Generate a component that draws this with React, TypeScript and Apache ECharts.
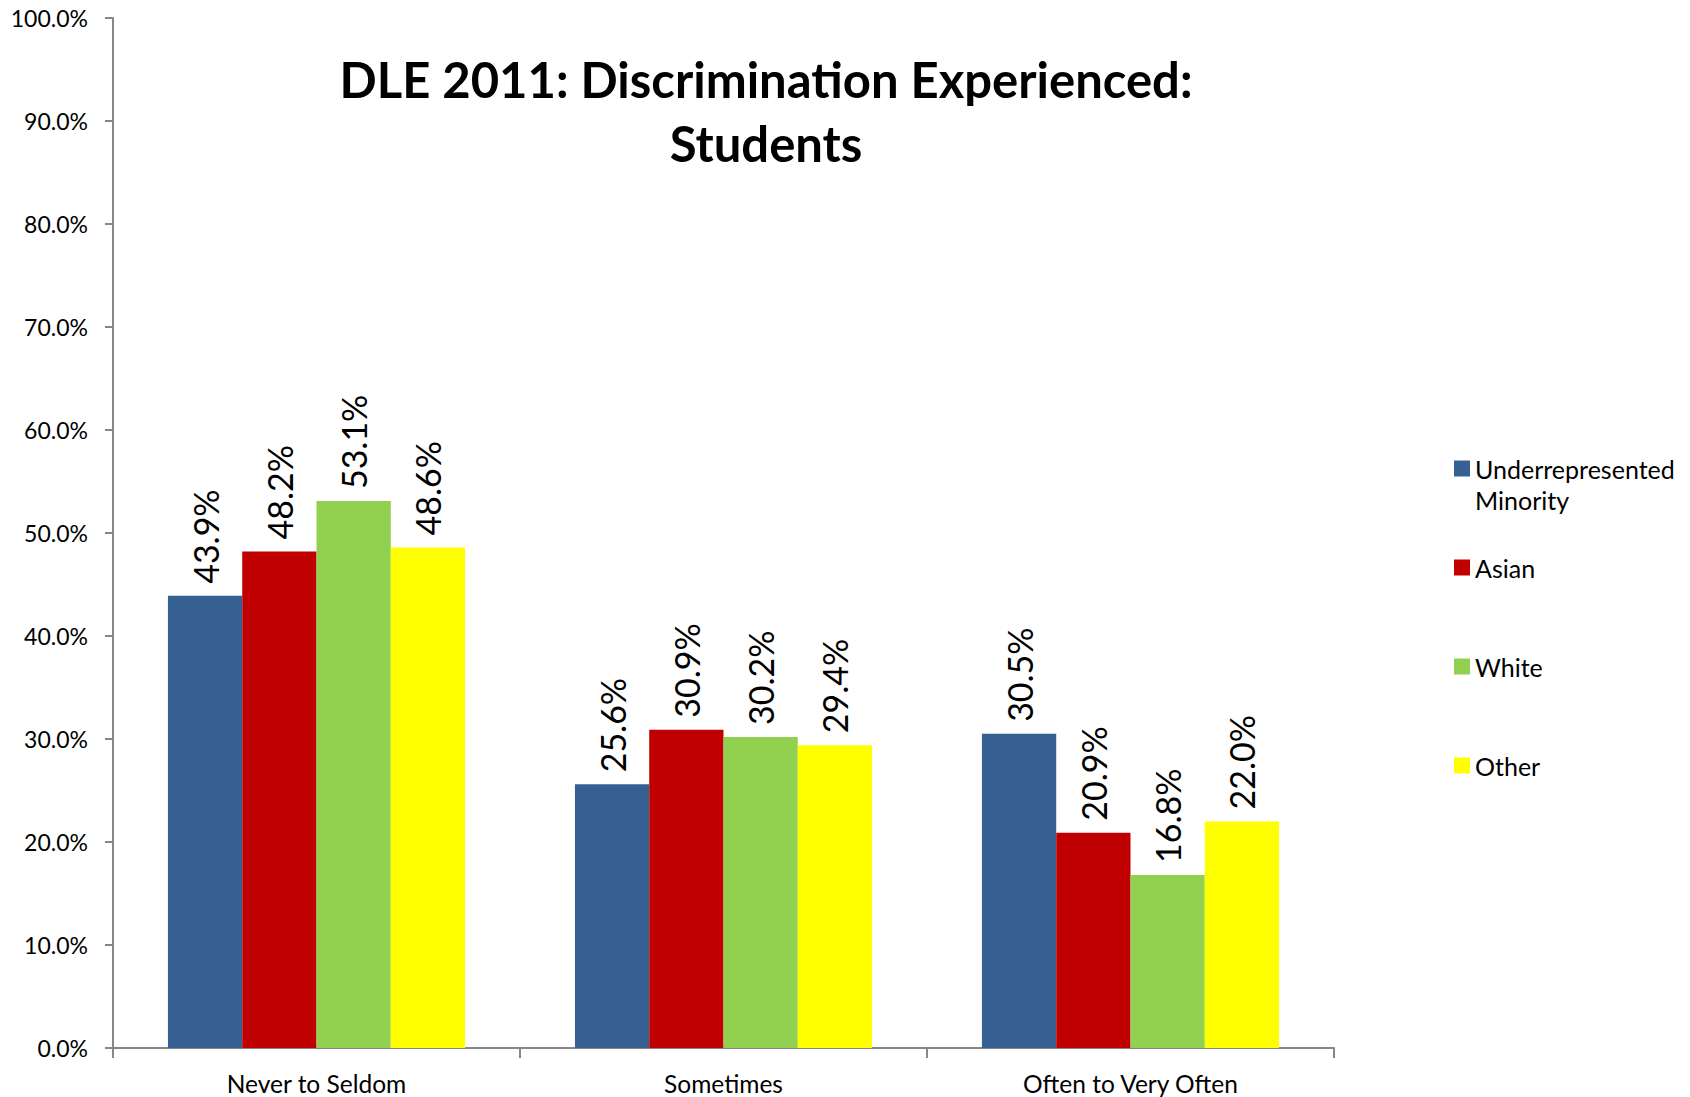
import React, { useEffect, useRef } from "react";
import * as echarts from "echarts";

const categories = ["Never to Seldom", "Sometimes", "Often to Very Often"];
const seriesNames = ["Underrepresented Minority", "Asian", "White", "Other"];
const urmValues = [43.9, 25.6, 30.5];
const asianValues = [48.2, 30.9, 20.9];
const whiteValues = [53.1, 30.2, 16.8];
const otherValues = [48.6, 29.4, 22.0];
const colors = ["#376092", "#C00000", "#92D050", "#FFFF00"];
const titleLines = ["DLE 2011: Discrimination Experienced:", "Students"];

const FONT = "Lato, 'Open Sans', sans-serif";

export default function App() {
  const ref = useRef<HTMLDivElement>(null);
  useEffect(() => {
    document.body.style.margin = "0";
    if (!ref.current) return;
    const chart = echarts.init(ref.current, null, { renderer: "svg" });
    const values = [urmValues, asianValues, whiteValues, otherValues];
    const legendTops = [422, 555, 654, 753];
    const option: any = {
      animation: false,
      textStyle: { fontFamily: FONT },
      grid: { left: 113, right: 356, top: 18, bottom: 49, containLabel: false },
      graphic: [
        {
          type: "text",
          x: 766,
          y: 47,
          style: {
            text: titleLines.join("\n"),
            font: `bold 49px ${FONT}`,
            lineHeight: 64,
            align: "center",
            verticalAlign: "top",
            fill: "#000",
          },
        },
      ],
      legend: seriesNames.map((name, i) => ({
        data: [name],
        orient: "vertical",
        left: 1454,
        top: legendTops[i],
        padding: 0,
        itemWidth: 16,
        itemHeight: 16,
        itemGap: 0,
        icon: "rect",
        formatter: (n: string) => (n === "Underrepresented Minority" ? "\nUnderrepresented\nMinority" : n),
        textStyle:
          i === 0
            ? { fontFamily: FONT, fontSize: 25, color: "#000", lineHeight: 31 }
            : { fontFamily: FONT, fontSize: 25, color: "#000", lineHeight: 16 },
        itemStyle: { borderWidth: 0 },
      })),
      xAxis: {
        type: "category",
        data: categories,
        axisLine: { lineStyle: { color: "#878787", width: 2 } },
        axisTick: { show: true, length: 10, lineStyle: { color: "#878787", width: 2 } },
        axisLabel: { fontFamily: FONT, fontSize: 24.5, lineHeight: 24, color: "#000", margin: 23 },
      },
      yAxis: {
        type: "value",
        min: 0,
        max: 100,
        interval: 10,
        splitLine: { show: false },
        axisLine: { show: true, lineStyle: { color: "#878787", width: 2 } },
        axisTick: { show: true, length: 8, lineStyle: { color: "#878787", width: 2 } },
        axisLabel: {
          fontFamily: FONT,
          fontSize: 23,
          color: "#000",
          margin: 25,
          formatter: (v: number) => v.toFixed(1) + "%",
        },
      },
      series: seriesNames.map((name, i) => ({
        name,
        type: "bar",
        data: values[i],
        barGap: "0%",
        barCategoryGap: "27%",
        itemStyle: { color: colors[i] },
        label: {
          show: true,
          position: "top",
          rotate: 90,
          align: "left",
          verticalAlign: "middle",
          distance: 12,
          fontFamily: FONT,
          fontSize: 34,
          color: "#000",
          formatter: (p: any) => p.value.toFixed(1) + "%",
        },
      })),
    };
    chart.setOption(option);
    return () => chart.dispose();
  }, []);
  return <div ref={ref} style={{ width: 1690, height: 1097 }} />;
}
